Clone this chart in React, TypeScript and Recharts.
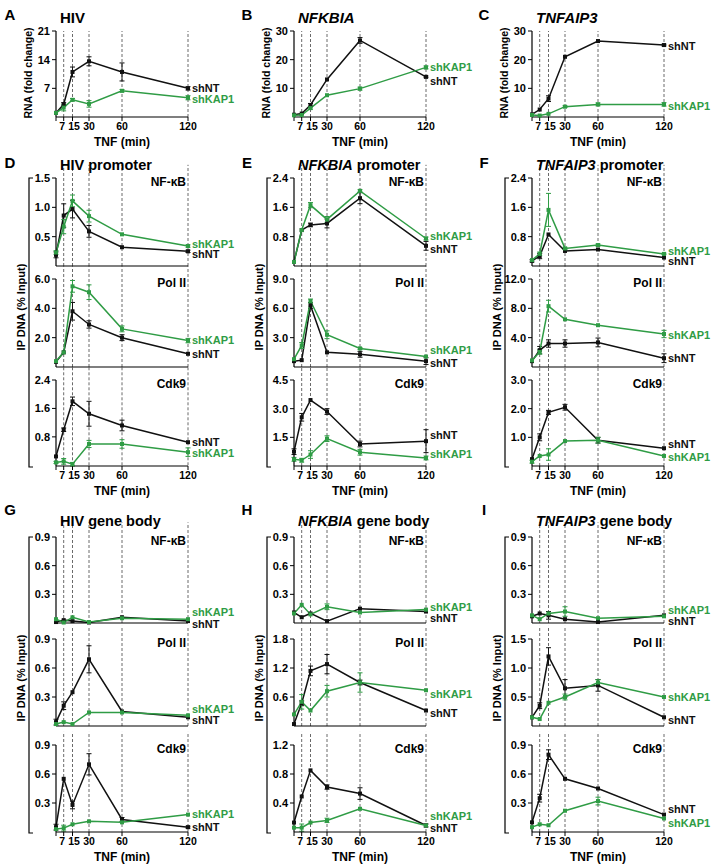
import React from "react";
import { LineChart, Line, XAxis, YAxis, ReferenceLine, ErrorBar } from "recharts";

const FONT = "'Liberation Sans', Arial, sans-serif";
const BLACK = "#111111";
const GREEN = "#2f9c45";

// TNF time points (min)
const TIME = [0, 7, 15, 30, 60, 120];

// A - HIV RNA
const aNT = [1, 3.1, 11.0, 13.6, 11.0, 7.0];
const aNTErr = [0, 0.4, 1.2, 1.1, 2.2, 0.4];
const aKAP = [1, 2.3, 4.2, 3.2, 6.4, 4.7];
const aKAPErr = [0, 0.8, 0.3, 0.8, 0.3, 0.5];
// B - NFKBIA RNA
const bNT = [0.8, 1.2, 4.2, 13.1, 26.7, 14.0];
const bNTErr = [0, 0, 0.5, 0, 1.0, 0.3];
const bKAP = [0.6, 0.7, 3.1, 7.6, 9.9, 17.3];
const bKAPErr = [0, 0, 0.4, 0, 0.5, 0.5];
// C - TNFAIP3 RNA
const cNT = [0.9, 2.6, 6.4, 21.0, 26.5, 25.1];
const cNTErr = [0, 0, 1.0, 0, 0, 0.3];
const cKAP = [0.7, 0.5, 1.1, 3.6, 4.4, 4.4];
const cKAPErr = [0, 0, 0, 0.3, 0.5, 0.6];

// D - HIV promoter
const dNfNT = [0.19, 0.86, 0.97, 0.59, 0.32, 0.25];
const dNfNTErr = [0.05, 0.2, 0.15, 0.1, 0, 0.02];
const dNfKAP = [0.23, 0.67, 1.11, 0.85, 0.54, 0.34];
const dNfKAPErr = [0.03, 0.12, 0.1, 0.1, 0, 0.02];
const dPolNT = [0.35, 1.0, 3.8, 2.9, 2.0, 0.9];
const dPolNTErr = [0, 0, 0.6, 0.25, 0.2, 0];
const dPolKAP = [0.4, 1.0, 5.5, 5.1, 2.6, 1.8];
const dPolKAPErr = [0, 0, 0.4, 0.5, 0.2, 0.15];
const dCdkNT = [0.25, 1.0, 1.8, 1.45, 1.12, 0.65];
const dCdkNTErr = [0, 0.05, 0.12, 0.35, 0.15, 0];
const dCdkKAP = [0.08, 0.11, 0.03, 0.6, 0.6, 0.37];
const dCdkKAPErr = [0.03, 0.08, 0.05, 0.1, 0.12, 0.12];

// E - NFKBIA promoter
const eNfNT = [0.11, 0.98, 1.12, 1.16, 1.85, 0.55];
const eNfNTErr = [0, 0, 0.05, 0.12, 0.15, 0.12];
const eNfKAP = [0.11, 0.98, 1.66, 1.27, 2.05, 0.75];
const eNfKAPErr = [0, 0, 0.07, 0.08, 0.03, 0.04];
const ePolNT = [0.6, 0.7, 6.3, 1.5, 1.3, 0.6];
const ePolNTErr = [0, 0, 0.3, 0, 0.3, 0.35];
const ePolKAP = [0.8, 2.2, 6.75, 3.3, 1.9, 1.07];
const ePolKAPErr = [0, 0.3, 0.2, 0.4, 0.1, 0];
const eCdkNT = [0.75, 2.55, 3.45, 2.85, 1.15, 1.3];
const eCdkNTErr = [0.15, 0.2, 0, 0.15, 0.15, 0.6];
const eCdkKAP = [0.35, 0.3, 0.6, 1.43, 0.72, 0.42];
const eCdkKAPErr = [0.1, 0.1, 0.2, 0.15, 0.15, 0.1];

// F - TNFAIP3 promoter
const fNfNT = [0.14, 0.27, 0.86, 0.41, 0.45, 0.23];
const fNfNTErr = [0.03, 0.07, 0, 0, 0, 0];
const fNfKAP = [0.16, 0.33, 1.53, 0.48, 0.57, 0.33];
const fNfKAPErr = [0, 0.05, 0.45, 0.03, 0.03, 0.02];
const fPolNT = [0.8, 2.3, 3.2, 3.2, 3.35, 1.2];
const fPolNTErr = [0, 0.5, 0.5, 0.5, 0.6, 0.6];
const fPolKAP = [0.9, 2.05, 8.3, 6.5, 5.7, 4.5];
const fPolKAPErr = [0, 0.3, 0.8, 0, 0, 0.5];
const fCdkNT = [0.24, 1.0, 1.87, 2.05, 0.9, 0.62];
const fCdkNTErr = [0, 0.12, 0.07, 0.1, 0.1, 0];
const fCdkKAP = [0.15, 0.35, 0.4, 0.87, 0.9, 0.35];
const fCdkKAPErr = [0.05, 0, 0.2, 0, 0.1, 0];

// G - HIV gene body
const gNfNT = [0.01, 0.03, 0.02, 0.005, 0.06, 0.02];
const gNfKAP = [0.04, 0.005, 0.06, 0.01, 0.05, 0.04];
const gPolNT = [0.04, 0.21, 0.35, 0.69, 0.15, 0.09];
const gPolNTErr = [0.03, 0.04, 0, 0.14, 0, 0];
const gPolKAP = [0.02, 0.04, 0.02, 0.14, 0.14, 0.11];
const gCdkNT = [0.05, 0.55, 0.28, 0.7, 0.13, 0.05];
const gCdkNTErr = [0.03, 0, 0.04, 0.11, 0.02, 0.01];
const gCdkKAP = [0.03, 0.04, 0.08, 0.11, 0.1, 0.18];
const gCdkKAPErr = [0, 0.03, 0, 0, 0, 0];

// H - NFKBIA gene body
const hNfNT = [0.11, 0.06, 0.1, 0.02, 0.15, 0.12];
const hNfKAP = [0.1, 0.19, 0.09, 0.17, 0.11, 0.14];
const hNfKAPErr = [0, 0, 0, 0.03, 0, 0];
const hPolNT = [0.04, 0.47, 1.14, 1.28, 0.9, 0.32];
const hPolNTErr = [0, 0.05, 0.1, 0.2, 0.05, 0];
const hPolKAP = [0.24, 0.5, 0.32, 0.72, 0.9, 0.74];
const hPolKAPErr = [0, 0.15, 0, 0.12, 0.2, 0];
const hCdkNT = [0.13, 0.49, 0.85, 0.62, 0.53, 0.09];
const hCdkNTErr = [0, 0, 0, 0.03, 0.08, 0.02];
const hCdkKAP = [0.06, 0.06, 0.13, 0.16, 0.32, 0.09];
const hCdkKAPErr = [0, 0.05, 0, 0.03, 0, 0];

// I - TNFAIP3 gene body
const iNfNT = [0.07, 0.1, 0.08, 0.04, 0.01, 0.08];
const iNfNTErr = [0, 0, 0.04, 0, 0, 0];
const iNfKAP = [0.08, 0.04, 0.1, 0.12, 0.05, 0.07];
const iNfKAPErr = [0, 0, 0, 0.05, 0, 0];
const iPolNT = [0.15, 0.35, 1.2, 0.65, 0.7, 0.15];
const iPolNTErr = [0, 0.05, 0.15, 0.15, 0.1, 0];
const iPolKAP = [0.15, 0.12, 0.4, 0.5, 0.75, 0.5];
const iPolKAPErr = [0, 0, 0, 0.05, 0.05, 0];
const iCdkNT = [0.1, 0.35, 0.8, 0.55, 0.45, 0.18];
const iCdkNTErr = [0, 0.04, 0.05, 0, 0, 0];
const iCdkKAP = [0.05, 0.08, 0.07, 0.22, 0.32, 0.14];
const iCdkKAPErr = [0, 0, 0, 0, 0.04, 0];

const ZERO = [0, 0, 0, 0, 0, 0];

// layout
const COLS = [
  { x0: 56, x1: 188 },
  { x0: 294, x1: 426 },
  { x0: 532, x1: 664 },
];
const R1: [number, number] = [31, 117];
const R2 = [[178, 266], [279, 367], [380, 466]] as [number, number][];
const R3 = [[537, 623], [639, 726], [745, 832]] as [number, number][];

type Spec = {
  col: number; rect: [number, number]; top: number; ticks: number[]; dec: number;
  nt: number[]; ntErr: number[]; kap: number[]; kapErr: number[];
  name?: string; bottom: boolean; ext: number; dyNT: number; dyKAP: number;
};

const mk = (col, rect, top, ticks, dec, nt, ntErr, kap, kapErr, name, bottom, ext, dyNT, dyKAP): Spec =>
  ({ col, rect, top, ticks, dec, nt, ntErr, kap, kapErr, name, bottom, ext, dyNT, dyKAP });

const SPECS: Spec[] = [
  mk(0, R1, 21, [7, 14, 21], 0, aNT, aNTErr, aKAP, aKAPErr, undefined, true, 0, 0, 1),
  mk(1, R1, 30, [10, 20, 30], 0, bNT, bNTErr, bKAP, bKAPErr, undefined, true, 0, 4, 0),
  mk(2, R1, 30, [10, 20, 30], 0, cNT, cNTErr, cKAP, cKAPErr, undefined, true, 0, 1, 2),

  mk(0, R2[0], 1.5, [0.5, 1.0, 1.5], 1, dNfNT, dNfNTErr, dNfKAP, dNfKAPErr, "NF-\u03baB", false, 0.15, 3, -2),
  mk(0, R2[1], 6, [2, 4, 6], 1, dPolNT, dPolNTErr, dPolKAP, dPolKAPErr, "Pol II", false, 0.15, 0, 0),
  mk(0, R2[2], 2.4, [0.8, 1.6, 2.4], 1, dCdkNT, dCdkNTErr, dCdkKAP, dCdkKAPErr, "Cdk9", true, 0.15, 0, 1),
  mk(1, R2[0], 2.4, [0.8, 1.6, 2.4], 1, eNfNT, eNfNTErr, eNfKAP, eNfKAPErr, "NF-\u03baB", false, 0.15, 3, -2),
  mk(1, R2[1], 9, [3, 6, 9], 1, ePolNT, ePolNTErr, ePolKAP, ePolKAPErr, "Pol II", false, 0.15, 2, -6),
  mk(1, R2[2], 4.5, [1.5, 3.0, 4.5], 1, eCdkNT, eCdkNTErr, eCdkKAP, eCdkKAPErr, "Cdk9", true, 0.15, -6, -4),
  mk(2, R2[0], 2.4, [0.8, 1.6, 2.4], 1, fNfNT, fNfNTErr, fNfKAP, fNfKAPErr, "NF-\u03baB", false, 0.15, 4, -3),
  mk(2, R2[1], 12, [4, 8, 12], 1, fPolNT, fPolNTErr, fPolKAP, fPolKAPErr, "Pol II", false, 0.15, 0, 1),
  mk(2, R2[2], 3, [1, 2, 3], 1, fCdkNT, fCdkNTErr, fCdkKAP, fCdkKAPErr, "Cdk9", true, 0.15, -4, 1),

  mk(0, R3[0], 0.9, [0.3, 0.6, 0.9], 1, gNfNT, ZERO, gNfKAP, ZERO, "NF-\u03baB", false, 0.17, 3, -7),
  mk(0, R3[1], 0.9, [0.3, 0.6, 0.9], 1, gPolNT, gPolNTErr, gPolKAP, ZERO, "Pol II", false, 0.15, 3, -6),
  mk(0, R3[2], 0.9, [0.3, 0.6, 0.9], 1, gCdkNT, gCdkNTErr, gCdkKAP, gCdkKAPErr, "Cdk9", true, 0.15, 0, 0),
  mk(1, R3[0], 0.9, [0.3, 0.6, 0.9], 1, hNfNT, ZERO, hNfKAP, hNfKAPErr, "NF-\u03baB", false, 0.17, 7, -2),
  mk(1, R3[1], 1.8, [0.6, 1.2, 1.8], 1, hPolNT, hPolNTErr, hPolKAP, hPolKAPErr, "Pol II", false, 0.15, 3, 4),
  mk(1, R3[2], 1.2, [0.4, 0.8, 1.2], 1, hCdkNT, hCdkNTErr, hCdkKAP, hCdkKAPErr, "Cdk9", true, 0.15, 3, -9),
  mk(2, R3[0], 0.9, [0.3, 0.6, 0.9], 1, iNfNT, iNfNTErr, iNfKAP, iNfKAPErr, "NF-\u03baB", false, 0.17, 6, -6),
  mk(2, R3[1], 1.5, [0.5, 1.0, 1.5], 1, iPolNT, iPolNTErr, iPolKAP, iPolKAPErr, "Pol II", false, 0.15, 3, 0),
  mk(2, R3[2], 0.9, [0.3, 0.6, 0.9], 1, iCdkNT, iCdkNTErr, iCdkKAP, iCdkKAPErr, "Cdk9", true, 0.15, -5, 5),
];

const tickStyle = { fontSize: 11, fontWeight: 700, fill: "#000", fontFamily: FONT };
// small nudges so the crowded "7" and "15" tick labels stay apart
const TICK_NUDGE: Record<number, number> = { 7: -1.5, 15: 1.5 };

function XTick(p: any) {
  const v = p.payload?.value;
  if (v === 0) return null;
  return (
    <text x={p.x + (TICK_NUDGE[v] || 0)} y={p.y} dy="0.71em" textAnchor="middle" fontSize={10.5} fontWeight={700} fill="#000" fontFamily={FONT}>
      {v}
    </text>
  );
}

function dotWithLabel(color: string, text: string, dy: number) {
  return (p: any) => (
    <g key={`d${p.index}`}>
      <rect x={p.cx - 2} y={p.cy - 2} width={4} height={4} fill={color} />
      {p.index === TIME.length - 1 && (
        <text x={p.cx + 4} y={p.cy + dy} dy="0.35em" fontSize={11} fontWeight={700} fill={color} fontFamily={FONT}>
          {text}
        </text>
      )}
    </g>
  );
}

function Sub({ s }: { s: Spec }) {
  const { x0, x1 } = COLS[s.col];
  const [yTop, yBot] = s.rect;
  const padL = 50, padR = 60, padT = 20, padB = 10;
  const xH = s.bottom ? 30 : 1;
  const w = x1 - x0 + padL + padR;
  const h = yBot - yTop + padT + xH + padB;
  const rows = TIME.map((t, i) => ({
    t, nt: s.nt[i], kap: s.kap[i], ntErr: s.ntErr[i], kapErr: s.kapErr[i],
  }));
  const yExt = s.top * (1 + s.ext);
  return (
    <div style={{ position: "absolute", left: x0 - padL, top: yTop - padT }}>
      <LineChart width={w} height={h} data={rows} margin={{ top: padT, right: padR, bottom: padB, left: 0 }}>
        <XAxis
          type="number" dataKey="t" domain={[0, 120]} ticks={TIME} interval={0}
          height={xH} tick={s.bottom ? <XTick /> : false} tickLine={s.bottom ? { stroke: "#000" } : false}
          tickSize={4} axisLine={{ stroke: "#000", strokeWidth: 1.2 }}
          label={s.bottom ? { value: "TNF (min)", position: "insideBottom", offset: 1, fontSize: 12, fontWeight: 700, fill: "#000", fontFamily: FONT } : undefined}
        />
        <YAxis
          type="number" domain={[0, s.top]} ticks={s.ticks} interval={0} width={padL}
          tick={tickStyle} tickSize={4} tickLine={{ stroke: "#000" }}
          axisLine={{ stroke: "#000", strokeWidth: 1.2 }}
          tickFormatter={(v) => Number(v).toFixed(s.dec)}
        />
        {TIME.slice(1).map((t) => (
          <ReferenceLine
            key={t}
            segment={[{ x: t, y: 0 }, { x: t, y: yExt }]}
            stroke="#444" strokeDasharray="3 2" strokeWidth={0.8} ifOverflow="visible"
          />
        ))}
        <Line
          dataKey="nt" stroke={BLACK} strokeWidth={1.5} isAnimationActive={false}
          dot={dotWithLabel(BLACK, "shNT", s.dyNT)}
        >
          <ErrorBar dataKey="ntErr" direction="y" width={2.5} stroke={BLACK} strokeWidth={1} isAnimationActive={false} />
        </Line>
        <Line
          dataKey="kap" stroke={GREEN} strokeWidth={1.5} isAnimationActive={false}
          dot={dotWithLabel(GREEN, "shKAP1", s.dyKAP)}
        >
          <ErrorBar dataKey="kapErr" direction="y" width={2.5} stroke={GREEN} strokeWidth={1} isAnimationActive={false} />
        </Line>
      </LineChart>
    </div>
  );
}

const LETTERS = [
  { t: "A", x: 10, y: 15 }, { t: "B", x: 247, y: 15 }, { t: "C", x: 484, y: 15 },
  { t: "D", x: 10, y: 163 }, { t: "E", x: 247, y: 163 }, { t: "F", x: 484, y: 163 },
  { t: "G", x: 10, y: 510 }, { t: "H", x: 247, y: 510 }, { t: "I", x: 484, y: 510 },
];
const GENES = [["HIV", false], ["NFKBIA", true], ["TNFAIP3", true]] as [string, boolean][];
const ROW_TITLES = [
  { y: 18, suffix: "" },
  { y: 165, suffix: " promoter" },
  { y: 521, suffix: " gene body" },
];

function Overlay() {
  const txt = { fontFamily: FONT, fontWeight: 700, fill: "#000" } as const;
  return (
    <svg width={714} height={864} style={{ position: "absolute", left: 0, top: 0, pointerEvents: "none" }}>
      {LETTERS.map((l) => (
        <text key={l.t} x={l.x} y={l.y} dy="0.35em" textAnchor="middle" fontSize={15} {...txt}>{l.t}</text>
      ))}
      {ROW_TITLES.map((r, ri) =>
        GENES.map(([g, it], ci) => (
          <text key={`${ri}-${ci}`} x={COLS[ci].x0 + 4} y={r.y} dy="0.35em" fontSize={ri === 0 ? 15 : 14.5} {...txt}>
            <tspan fontStyle={it ? "italic" : "normal"}>{g}</tspan>
            {r.suffix}
          </text>
        ))
      )}
      {COLS.map((c, ci) => (
        <text key={`ry${ci}`} transform={`translate(${c.x0 - 28},73) rotate(-90)`} textAnchor="middle" dy="0.35em" fontSize={10.5} {...txt}>
          RNA (fold change)
        </text>
      ))}
      {[{ y0: 178, y1: 467, ly: 307 }, { y0: 537, y1: 833, ly: 678 }].map((b, bi) =>
        COLS.map((c, ci) => {
          const bx = c.x0 - 27;
          return (
            <g key={`br${bi}${ci}`}>
              <path d={`M${bx + 4},${b.y0} H${bx} V${b.y1} H${bx + 4}`} fill="none" stroke="#000" strokeWidth={1.2} />
              <text transform={`translate(${c.x0 - 35},${b.ly}) rotate(-90)`} textAnchor="middle" dy="0.35em" fontSize={11} {...txt}>
                IP DNA (% Input)
              </text>
            </g>
          );
        })
      )}
      {SPECS.filter((s) => s.name).map((s, i) => (
        <text key={`n${i}`} x={COLS[s.col].x1 - 2} y={s.rect[0] + 4} dy="0.35em" textAnchor="end" fontSize={12} {...txt}>
          {s.name}
        </text>
      ))}
    </svg>
  );
}

export default function App() {
  return (
    <div style={{ position: "absolute", left: 0, top: 0, width: 714, height: 864, background: "#fff", fontFamily: FONT }}>
      {SPECS.map((s, i) => <Sub key={i} s={s} />)}
      <Overlay />
    </div>
  );
}
